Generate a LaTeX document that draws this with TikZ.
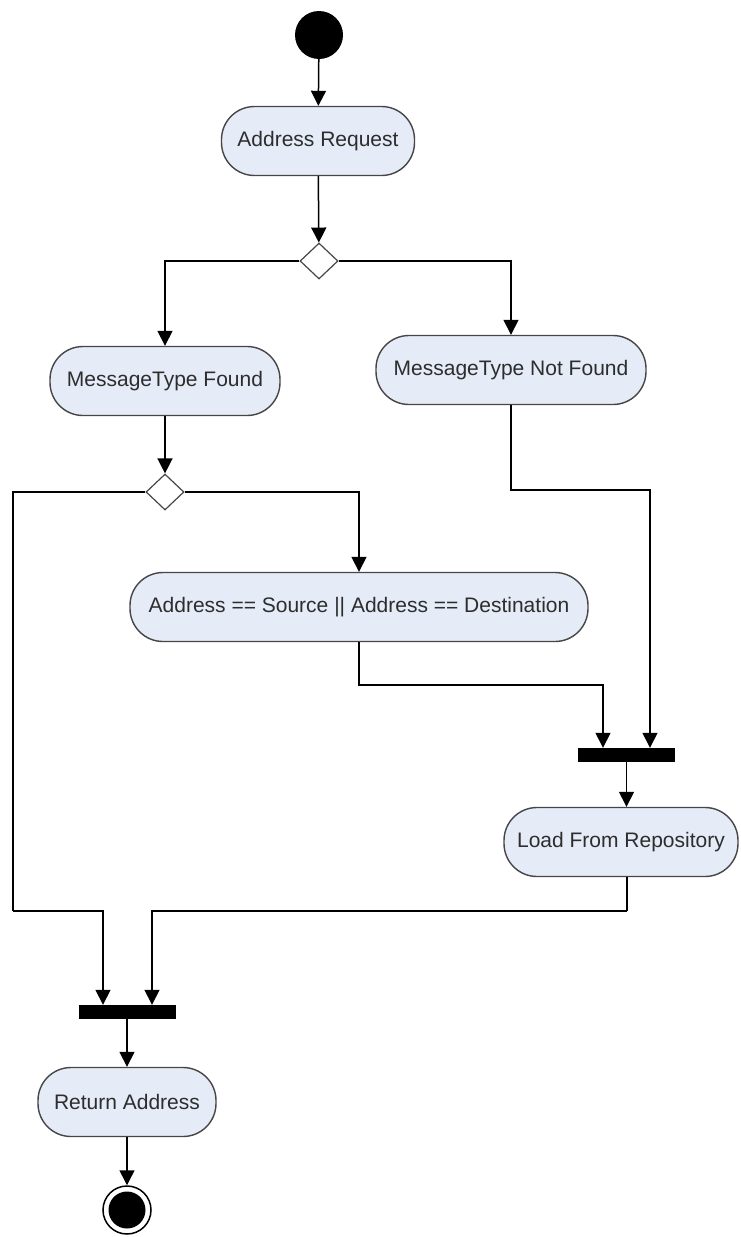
\documentclass[tikz,border=0pt]{standalone}
\usepackage{fontspec}
\setmainfont{Liberation Sans}
\usetikzlibrary{shapes.geometric,arrows.meta,calc}
\definecolor{actfill}{RGB}{229,235,247}
\definecolor{actdraw}{RGB}{70,70,70}
\definecolor{txt}{RGB}{45,45,45}
\tikzset{
  act/.style={draw=actdraw, line width=1.4pt, fill=actfill, rounded corners=33pt,
    minimum height=69pt, inner sep=0pt, font=\fontsize{21}{24}\selectfont, text=txt},
  dec/.style={draw=actdraw, line width=1.2pt, fill=white, shape=diamond, inner sep=0pt,
    minimum width=38pt, minimum height=36pt},
  barnode/.style={fill=black, draw=none, minimum width=97pt, minimum height=14pt, inner sep=0pt},
  arr/.style={line width=1.5pt, -{Triangle[length=15pt,width=15pt]}},
  ln/.style={line width=1.5pt}
}
\begin{document}
\begin{tikzpicture}[x=1pt,y=-1pt]
\useasboundingbox (0,0) rectangle (741,1237);
\node[circle, fill=black, minimum size=48pt, inner sep=0pt] (start) at (319,35) {};
\node[act, minimum width=193pt] (ar) at (318,141) {Address Request};
\node[dec] (d1) at (319,261) {};
\node[act, minimum width=230pt] (mtf) at (165,381) {MessageType Found};
\node[act, minimum width=270pt] (mtnf) at (511,370) {MessageType Not Found};
\node[dec] (d2) at (165,492) {};
\node[act, minimum width=458pt] (asrc) at (359,607) {Address == Source || Address == Destination};
\node[barnode] (bar1) at (626.5,755) {};
\node[act, minimum width=234pt] (load) at (621,842) {Load From Repository};
\node[barnode] (bar2) at (127,1012) {};
\node[act, minimum width=178pt] (ret) at (127,1102) {Return Address};
\node[circle, draw=black, line width=1.5pt, fill=white, minimum size=48pt, inner sep=0pt] (endo) at (127,1210) {};
\node[circle, fill=black, minimum size=37pt, inner sep=0pt] (endi) at (127,1210) {};

\coordinate (b1a) at ($(bar1.north)+(-23.5,0)$);
\coordinate (b1b) at ($(bar1.north)+(23.5,0)$);
\coordinate (b2a) at ($(bar2.north)+(-24,0)$);
\coordinate (b2b) at ($(bar2.north)+(25,0)$);
\coordinate (k1) at (603,685);
\coordinate (k2) at (650,490);
\coordinate (k3) at (13,911);
\coordinate (k4) at (627,911);

\draw[arr] (start) -- (ar);
\draw[arr] (ar) -- (d1);
\draw[arr] (d1.west) -| (mtf.north);
\draw[arr] (d1.east) -| (mtnf.north);
\draw[arr] (mtf) -- (d2);
\draw[arr] (d2.east) -| (asrc.north);
\draw[ln] (d2.west) -| (k3);
\draw[arr] (k3) -| (b2a);
\draw[arr] (asrc.south) |- (k1) -- (b1a);
\draw[arr] (mtnf.south) |- (k2) -- (b1b);
\draw[arr] (bar1.south) -- (bar1.south |- load.north);
\draw[ln] (load.south -| k4) -- (k4);
\draw[arr] (k4) -| (b2b);
\draw[arr] (bar2) -- (ret);
\draw[arr] (ret) -- (endo);
\end{tikzpicture}
\end{document}
